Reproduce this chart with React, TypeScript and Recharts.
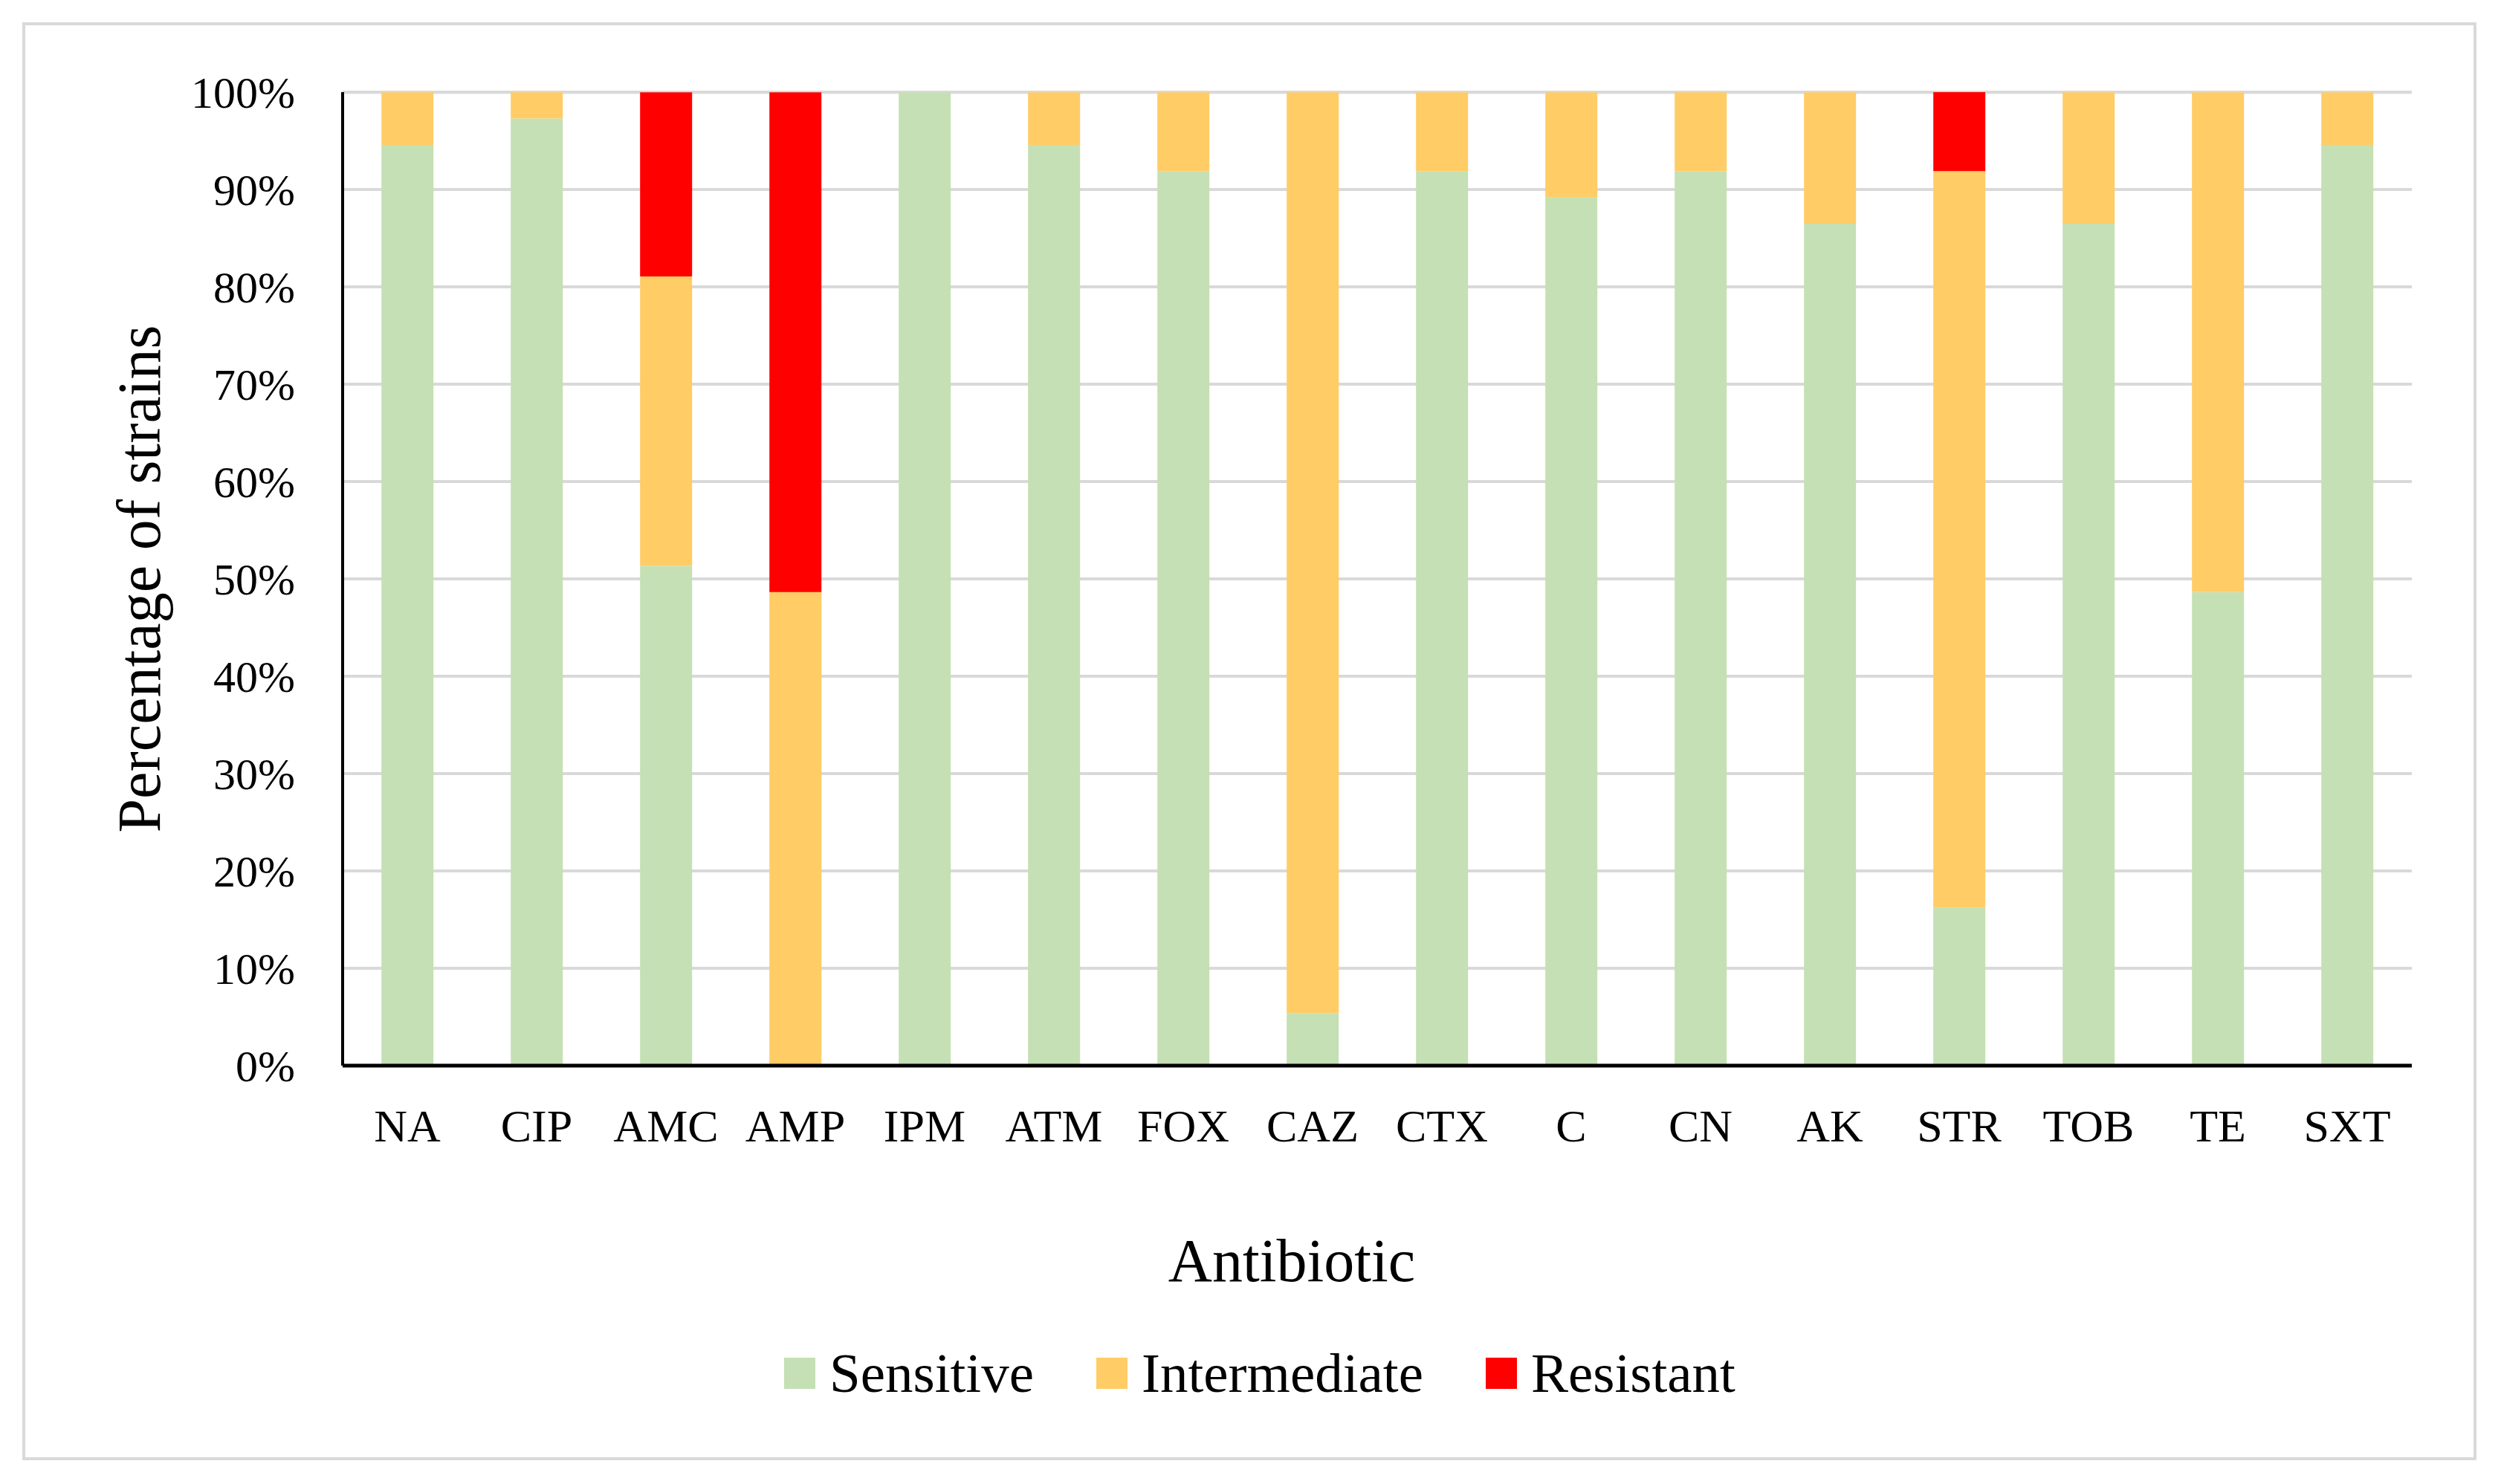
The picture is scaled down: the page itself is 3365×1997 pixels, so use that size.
import React from 'react';
import { BarChart, Bar, XAxis, YAxis, CartesianGrid, Legend } from 'recharts';

const categories = ['NA', 'CIP', 'AMC', 'AMP', 'IPM', 'ATM', 'FOX', 'CAZ', 'CTX', 'C', 'CN', 'AK', 'STR', 'TOB', 'TE', 'SXT'];
const sensitive = [94.59, 97.3, 51.35, 0, 100, 94.59, 91.89, 5.41, 91.89, 89.19, 91.89, 86.49, 16.22, 86.49, 48.65, 94.59];
const intermediate = [5.41, 2.7, 29.73, 48.65, 0, 5.41, 8.11, 94.59, 8.11, 10.81, 8.11, 13.51, 75.68, 13.51, 51.35, 5.41];
const resistant = [0, 0, 18.92, 51.35, 0, 0, 0, 0, 0, 0, 0, 0, 8.11, 0, 0, 0];
const yTicks = [0, 10, 20, 30, 40, 50, 60, 70, 80, 90, 100];

const seriesNames = ['Sensitive', 'Intermediate', 'Resistant'];
const seriesColors = ['#C5E0B4', '#FFCC66', '#FF0000'];

const data = categories.map((c, i) => ({
  name: c,
  Sensitive: sensitive[i],
  Intermediate: intermediate[i],
  Resistant: resistant[i],
}));

const FONT = '"Liberation Serif", "Times New Roman", serif';

const LegendContent = () => (
  <div style={{ display: 'flex', alignItems: 'center', fontFamily: FONT, fontSize: 75, color: '#000' }}>
    {seriesNames.map((n, i) => (
      <div key={n} style={{ display: 'flex', alignItems: 'center', marginRight: i < seriesNames.length - 1 ? 84 : 0 }}>
        <div style={{ width: 42, height: 42, background: seriesColors[i], marginRight: 19 }} />
        <span style={{ lineHeight: '42px', whiteSpace: 'nowrap' }}>{n}</span>
      </div>
    ))}
  </div>
);

export default function App() {
  return (
    <div style={{ position: 'absolute', left: 0, top: 0, width: 3365, height: 1997, background: '#fff' }}>
      <div
        style={{
          position: 'absolute',
          left: 30,
          top: 30,
          width: 3302,
          height: 1935,
          border: '4px solid #d9d9d9',
          boxSizing: 'border-box',
        }}
      />
      <div style={{ position: 'absolute', left: 0, top: 0 }}>
        <BarChart
          width={3365}
          height={1997}
          data={data}
          margin={{ top: 124, right: 120, left: 0, bottom: 413 }}
          barCategoryGap="30%"
        >
          <CartesianGrid vertical={false} stroke="#d9d9d9" strokeWidth={4} />
          <XAxis
            dataKey="name"
            height={150}
            tickLine={false}
            tickSize={0}
            tickMargin={58}
            axisLine={{ stroke: '#000', strokeWidth: 5 }}
            tick={{ fontFamily: FONT, fontSize: 62, fill: '#000' }}
            interval={0}
            label={{
              content: () => (
                <text x={1738} y={1724} textAnchor="middle" fontFamily={FONT} fontSize={82} fill="#000">
                  Antibiotic
                </text>
              ),
            }}
          />
          <YAxis
            width={461}
            domain={[0, 100]}
            ticks={yTicks}
            tickFormatter={(v) => `${v}%`}
            tickLine={false}
            tickSize={0}
            tickMargin={64}
            axisLine={{ stroke: '#000', strokeWidth: 4 }}
            tick={{ fontFamily: FONT, fontSize: 60, fill: '#000' }}
            label={{
              content: () => (
                <text
                  x={187}
                  y={779}
                  transform="rotate(-90, 187, 779)"
                  textAnchor="middle"
                  dominantBaseline="central"
                  fontFamily={FONT}
                  fontSize={82}
                  fill="#000"
                >
                  Percentage of strains
                </text>
              ),
            }}
          />
          <Legend
            layout="horizontal"
            verticalAlign="middle"
            align="center"
            wrapperStyle={{ left: 1055, top: 1827, width: 1400, height: 42 }}
            content={LegendContent}
          />
          {seriesNames.map((n, i) => (
            <Bar key={n} dataKey={n} stackId="a" fill={seriesColors[i]} isAnimationActive={false} />
          ))}
        </BarChart>
      </div>
    </div>
  );
}
